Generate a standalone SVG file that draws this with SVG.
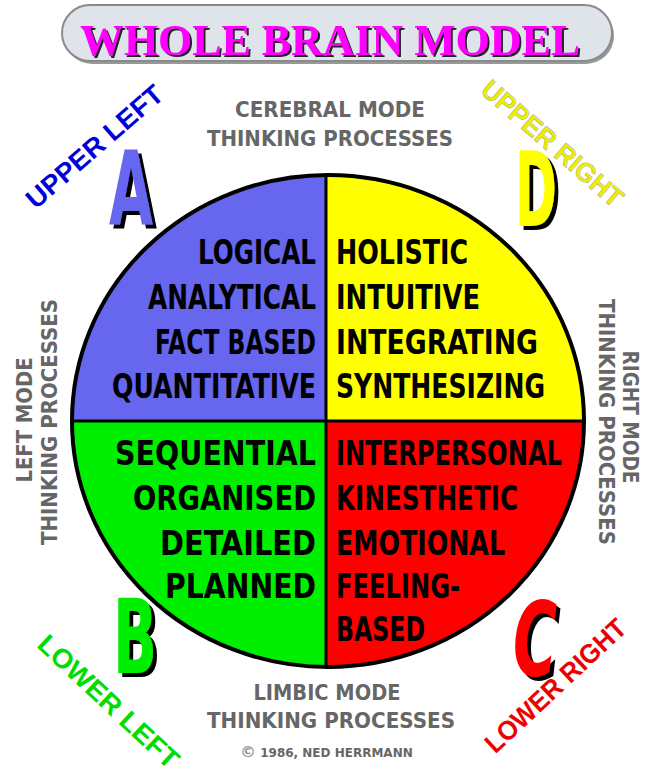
<svg xmlns="http://www.w3.org/2000/svg" width="653" height="773" viewBox="0 0 653 773">
<defs>
<style>
.q{font-family:"DejaVu Sans Condensed","DejaVu Sans",sans-serif;font-stretch:condensed;font-weight:bold;font-size:33px;fill:#000}
.g{font-family:"DejaVu Sans","Liberation Sans",sans-serif;font-weight:bold;font-size:22px;fill:#666}
.c{font-family:"Liberation Sans",Arial,sans-serif;font-weight:bold;font-size:27px}
.big{font-family:"DejaVu Sans Condensed","DejaVu Sans",sans-serif;font-stretch:condensed;font-weight:bold;font-size:104px;filter:url(#sh)}
</style>
<filter id="sh" x="-20%" y="-20%" width="160%" height="160%"><feDropShadow dx="4" dy="4" stdDeviation="0.6" flood-color="#000" flood-opacity="1"/></filter>
<filter id="tsh" x="-5%" y="-20%" width="110%" height="160%"><feDropShadow dx="2" dy="2" stdDeviation="0.5" flood-color="#222" flood-opacity="1"/></filter>
<clipPath id="circ"><ellipse cx="328" cy="421" rx="256" ry="246"/></clipPath>
</defs>
<rect width="653" height="773" fill="#fff"/>
<g id="title">
<rect x="64" y="8" width="550" height="56" rx="28" fill="#999"/>
<rect x="62" y="5" width="550" height="56" rx="28" fill="#dfe3ea" stroke="#8a8a8a" stroke-width="2"/>
<text x="330" y="55" text-anchor="middle" textLength="500" lengthAdjust="spacingAndGlyphs" font-family="Liberation Serif,serif" font-weight="bold" font-size="44" fill="#ff00ff" filter="url(#tsh)">WHOLE BRAIN MODEL</text>
</g>
<g id="circle">
<g clip-path="url(#circ)">
<rect x="60" y="170" width="266" height="251" fill="#6666ee"/>
<rect x="326" y="170" width="270" height="251" fill="#ffff00"/>
<rect x="60" y="421" width="266" height="260" fill="#00ee00"/>
<rect x="326" y="421" width="270" height="260" fill="#ff0000"/>
</g>
<line x1="326" y1="175" x2="326" y2="667" stroke="#000" stroke-width="3"/>
<line x1="72" y1="421" x2="584" y2="421" stroke="#000" stroke-width="3"/>
<ellipse cx="328" cy="421" rx="256" ry="246" fill="none" stroke="#000" stroke-width="4"/>
</g>
<g id="quadA">
<text class="q" x="316" y="264" text-anchor="end" textLength="118" lengthAdjust="spacingAndGlyphs">LOGICAL</text>
<text class="q" x="316" y="309" text-anchor="end" textLength="168" lengthAdjust="spacingAndGlyphs">ANALYTICAL</text>
<text class="q" x="316" y="354" text-anchor="end" textLength="161" lengthAdjust="spacingAndGlyphs">FACT BASED</text>
<text class="q" x="316" y="398" text-anchor="end" textLength="204" lengthAdjust="spacingAndGlyphs">QUANTITATIVE</text>
</g>
<g id="quadD">
<text class="q" x="336" y="264" textLength="132" lengthAdjust="spacingAndGlyphs">HOLISTIC</text>
<text class="q" x="336" y="309" textLength="144" lengthAdjust="spacingAndGlyphs">INTUITIVE</text>
<text class="q" x="336" y="354" textLength="202" lengthAdjust="spacingAndGlyphs">INTEGRATING</text>
<text class="q" x="336" y="398" textLength="209" lengthAdjust="spacingAndGlyphs">SYNTHESIZING</text>
</g>
<g id="quadB">
<text class="q" x="316" y="465" text-anchor="end" textLength="201" lengthAdjust="spacingAndGlyphs">SEQUENTIAL</text>
<text class="q" x="316" y="510" text-anchor="end" textLength="183" lengthAdjust="spacingAndGlyphs">ORGANISED</text>
<text class="q" x="316" y="555" text-anchor="end" textLength="156" lengthAdjust="spacingAndGlyphs">DETAILED</text>
<text class="q" x="316" y="598" text-anchor="end" textLength="151" lengthAdjust="spacingAndGlyphs">PLANNED</text>
</g>
<g id="quadC">
<text class="q" x="336" y="465" textLength="226" lengthAdjust="spacingAndGlyphs">INTERPERSONAL</text>
<text class="q" x="336" y="510" textLength="182" lengthAdjust="spacingAndGlyphs">KINESTHETIC</text>
<text class="q" x="336" y="555" textLength="169" lengthAdjust="spacingAndGlyphs">EMOTIONAL</text>
<text class="q" x="336" y="598" textLength="124" lengthAdjust="spacingAndGlyphs">FEELING-</text>
<text class="q" x="336" y="641" textLength="89" lengthAdjust="spacingAndGlyphs">BASED</text>
</g>
<g id="cerebral">
<text class="g" x="330" y="117" text-anchor="middle" textLength="190" lengthAdjust="spacingAndGlyphs">CEREBRAL MODE</text>
<text class="g" x="330" y="146" text-anchor="middle" textLength="246" lengthAdjust="spacingAndGlyphs">THINKING PROCESSES</text>
</g>
<g id="limbic">
<text class="g" x="327" y="700" text-anchor="middle" textLength="147" lengthAdjust="spacingAndGlyphs">LIMBIC MODE</text>
<text class="g" x="331" y="728" text-anchor="middle" textLength="248" lengthAdjust="spacingAndGlyphs">THINKING PROCESSES</text>
<text x="240" y="757" font-family="DejaVu Sans,sans-serif" font-weight="bold" font-size="12" fill="#666"><tspan font-size="16" fill="#999">©</tspan> 1986, NED HERRMANN</text>
</g>
<g id="leftmode">
<text class="g" transform="translate(32,420) rotate(-90)" text-anchor="middle" textLength="125" lengthAdjust="spacingAndGlyphs">LEFT MODE</text>
<text class="g" transform="translate(57,422) rotate(-90)" text-anchor="middle" textLength="246" lengthAdjust="spacingAndGlyphs">THINKING PROCESSES</text>
</g>
<g id="rightmode">
<text class="g" transform="translate(623,417) rotate(90)" text-anchor="middle" textLength="133" lengthAdjust="spacingAndGlyphs">RIGHT MODE</text>
<text class="g" transform="translate(599,422) rotate(90)" text-anchor="middle" textLength="246" lengthAdjust="spacingAndGlyphs">THINKING PROCESSES</text>
</g>
<g id="upperleft">
<text class="big" x="109" y="225" textLength="44" lengthAdjust="spacingAndGlyphs" fill="#6666ee">A</text>
<text class="c" transform="translate(94,146) rotate(-41)" y="10" text-anchor="middle" textLength="172" lengthAdjust="spacingAndGlyphs" fill="#0000dd">UPPER LEFT</text>
</g>
<g id="upperright">
<text class="big" x="515" y="226" textLength="42" lengthAdjust="spacingAndGlyphs" fill="#ffff00">D</text>
<text class="c" transform="translate(553,143) rotate(41)" y="10" text-anchor="middle" textLength="178" lengthAdjust="spacingAndGlyphs" fill="#eeee00" stroke="#999" stroke-width="0.4">UPPER RIGHT</text>
</g>
<g id="lowerleft">
<text class="big" x="113" y="673" textLength="44" lengthAdjust="spacingAndGlyphs" fill="#00ee00">B</text>
<text class="c" transform="translate(109,701) rotate(43)" y="10" text-anchor="middle" textLength="182" lengthAdjust="spacingAndGlyphs" fill="#00dd00">LOWER LEFT</text>
</g>
<g id="lowerright">
<text class="big" x="513" y="676" textLength="44" lengthAdjust="spacingAndGlyphs" font-style="italic" fill="#ff0000">C</text>
<text class="c" transform="translate(555,685) rotate(-43)" y="10" text-anchor="middle" textLength="182" lengthAdjust="spacingAndGlyphs" fill="#ee0000">LOWER RIGHT</text>
</g>
</svg>
